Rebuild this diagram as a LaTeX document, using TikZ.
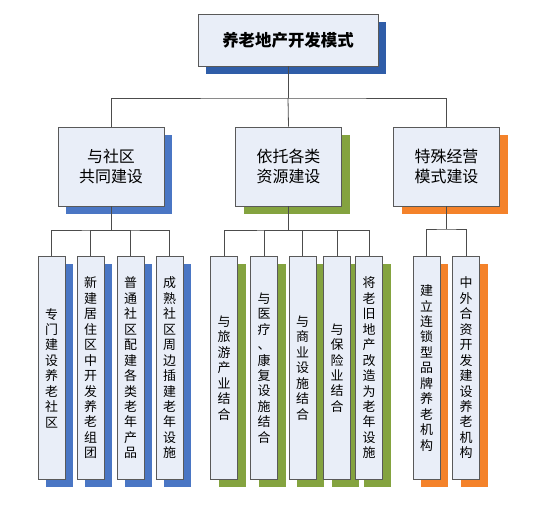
\documentclass[tikz,border=0pt]{standalone}
\usepackage{fontspec}
\setmainfont{Noto Sans CJK SC}
\usetikzlibrary{shadows}

\definecolor{boxfill}{HTML}{E9EEF8}
\definecolor{shtop}{HTML}{2F5DA8}
\definecolor{shblue}{HTML}{4A76C4}
\definecolor{shgreen}{HTML}{84A33F}
\definecolor{shorange}{HTML}{F4822A}

% vertical (one character per line) text
\makeatletter
\newcommand\vtext[1]{\def\vt@sep{}\@tfor\vt@ch:=#1\do{\vt@sep\vt@ch\def\vt@sep{\\}}}
\makeatother

\begin{document}
\begin{tikzpicture}[
			x=1bp, y=-1bp,
			box/.style={
				rectangle, draw=black!65, fill=boxfill,
				line width=0.9pt, align=center, inner sep=0pt
			},
			title/.style={
				box, minimum width=180bp, minimum height=52bp,
				font=\fontsize{16.5}{20}\selectfont\bfseries,
				drop shadow={shadow xshift=8bp, shadow yshift=-8bp, fill=shtop, opacity=1}
			},
			group/.style={
				box, minimum width=106bp, minimum height=79bp,
				font=\fontsize{16}{20}\selectfont
			},
			leaf/.style={
				box, minimum width=27bp, minimum height=223bp,
				text width=14bp, anchor=north,
				font=\fontsize{13}{15.5}\selectfont
			},
			sblue/.style={drop shadow={shadow xshift=8bp, shadow yshift=-8bp, fill=shblue, opacity=1}},
			sgreen/.style={drop shadow={shadow xshift=8bp, shadow yshift=-8bp, fill=shgreen, opacity=1}},
			sorange/.style={drop shadow={shadow xshift=8bp, shadow yshift=-8bp, fill=shorange, opacity=1}},
			conn/.style={draw=black!70, line width=0.8pt}
			]
			\useasboundingbox (0,0) rectangle (552,511);
			
			%% top
			\node[title] (top) at (288, 40) {养老地产开发模式};
			
			%% second level
			\node[group, sblue] (g1) at (111, 166.5) {与社区\\共同建设};
			\node[group, sgreen] (g2) at (288.5, 166.5) {依托各类\\资源建设};
			\node[group, sorange] (g3) at (446.5, 166.5) {特殊经营\\模式建设};
			
			\coordinate (hub) at (288, 98);
			\draw[conn] (top.south) -- (hub);
			\draw[conn] (g1.north) |- (hub) -| (g3.north);
			\draw[conn] (hub) -- (g2.north);
			
			%% leaves: group 1
			\node[leaf, sblue] (l1) at (51.5, 256) {\vtext{专门建设养老社区}};
			\node[leaf, sblue] (l2) at (90.5, 256) {\vtext{新建居住区中开发养老组团}};
			\node[leaf, sblue] (l3) at (130.5, 256) {\vtext{普通社区配建各类老年产品}};
			\node[leaf, sblue] (l4) at (169.5, 256) {\vtext{成熟社区周边插建老年设施}};
			
			%% leaves: group 2
			\node[leaf, sgreen] (m1) at (224, 256) {\vtext{与旅游产业结合}};
			\node[leaf, sgreen] (m2) at (264, 256) {\vtext{与医疗、康复设施结合}};
			\node[leaf, sgreen] (m3) at (302.5, 256) {\vtext{与商业设施结合}};
			\node[leaf, sgreen] (m4) at (337, 256) {\vtext{与保险业结合}};
			\node[leaf, sgreen] (m5) at (369, 256) {\vtext{将老旧地产改造为老年设施}};
			
			%% leaves: group 3
			\node[leaf, sorange] (r1) at (426.5, 256) {\vtext{建立连锁型品牌养老机构}};
			\node[leaf, sorange] (r2) at (466, 256) {\vtext{中外合资开发建设养老机构}};
			
			%% connectors to leaves
			\coordinate (hub1) at (111, 230);
			\draw[conn] (g1.south) -- (hub1);
			\draw[conn] (l1.north) |- (hub1) -| (l4.north);
			\draw[conn] (l2.north) |- (hub1);
			\draw[conn] (l3.north) |- (hub1);
			
			\coordinate (hub2) at (288.5, 230);
			\draw[conn] (g2.south) -- (hub2);
			\draw[conn] (m1.north) |- (hub2) -| (m5.north);
			\draw[conn] (m2.north) |- (hub2);
			\draw[conn] (m3.north) |- (hub2);
			\draw[conn] (m4.north) |- (hub2);
			
			\coordinate (hub3) at (446.5, 229);
			\draw[conn] (g3.south) -- (hub3);
			\draw[conn] (r1.north) |- (hub3) -| (r2.north);
			
		\end{tikzpicture}
\end{document}
